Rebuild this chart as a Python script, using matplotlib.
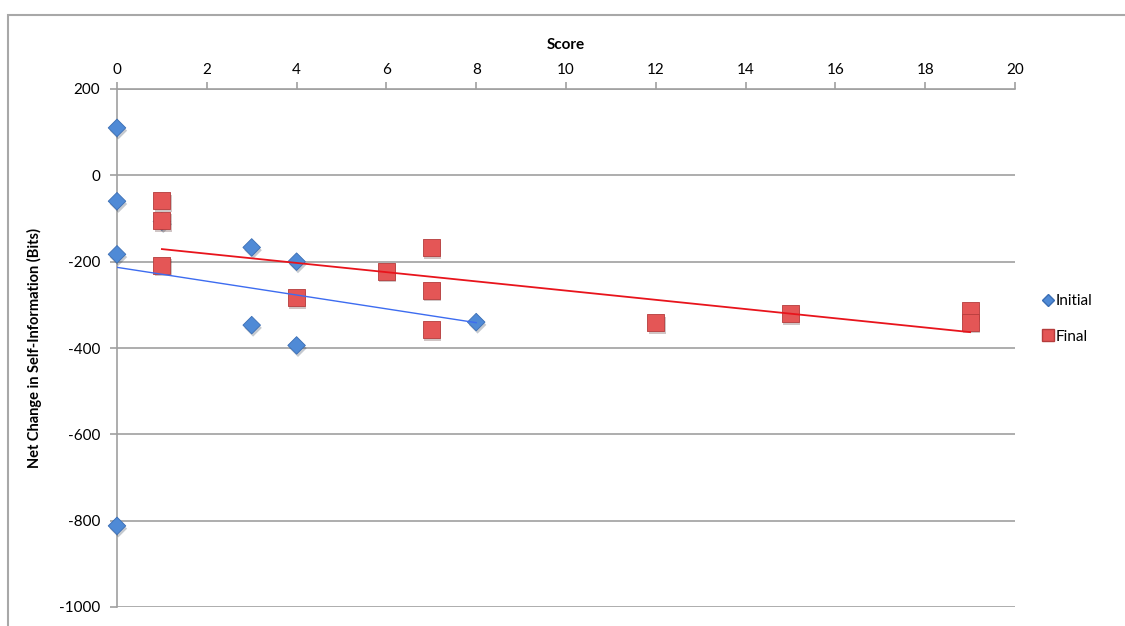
import numpy as np
import matplotlib
matplotlib.use('Agg')
import matplotlib.pyplot as plt
import matplotlib.patheffects as pe
from matplotlib.patches import Rectangle
from matplotlib.lines import Line2D

plt.rcParams['font.family'] = ['Lato', 'DejaVu Sans']
plt.rcParams['axes.unicode_minus'] = False

# -----------------------------------------------------------------------------------------+
# data
score_initial = [0, 0, 0, 0, 1, 3, 3, 4, 4, 8]
bits_initial = [110, -60, -183, -812, -107, -167, -347, -200, -394, -340]

score_final = [1, 1, 1, 4, 6, 7, 7, 7, 12, 15, 19, 19]
bits_final = [-58, -104, -208, -283, -222, -167, -266, -357, -342, -320, -313, -340]

xticks = [0, 2, 4, 6, 8, 10, 12, 14, 16, 18, 20]
yticks = [200, 0, -200, -400, -600, -800, -1000]

blue = '#4f8ad6'
blue_edge = '#3b6eb4'
red = '#e45656'
red_edge = '#b53c3c'

# -----------------------------------------------------------------------------------------+
fig = plt.figure(figsize=(11.25, 6.26), dpi=100)
ax = fig.add_axes([117/1125, 1-607/626, (1015-117)/1125, (607-89)/626])

# frame round the chart (cut off at right and bottom)
fig.add_artist(Rectangle((8/1125, -0.1), 1.2, 1-15/626+0.1, transform=fig.transFigure,
                         fill=False, edgecolor='#a8a8a8', lw=1.5))

shadow = [pe.SimplePatchShadow(offset=(1, -2), alpha=0.25), pe.Normal()]

ax.scatter(score_initial, bits_initial, marker='D', s=80, c=blue, edgecolors=blue_edge,
           linewidths=0.6, zorder=3, path_effects=shadow, clip_on=False)
ax.scatter(score_final, bits_final, marker='s', s=150, c=red, edgecolors=red_edge,
           linewidths=0.6, zorder=4, path_effects=shadow, clip_on=False)

# linear trend lines
p1 = np.polyfit(score_initial, bits_initial, 1)
xs1 = np.array([min(score_initial), max(score_initial)])
ax.plot(xs1, np.polyval(p1, xs1), color='#3d6cf0', lw=1.0, zorder=5)

p2 = np.polyfit(score_final, bits_final, 1)
xs2 = np.array([min(score_final), max(score_final)])
ax.plot(xs2, np.polyval(p2, xs2), color='#e8141c', lw=1.3, zorder=5)

ax.set_xlim(0, 20)
ax.set_ylim(-1000, 200)
ax.set_xticks(xticks)
ax.set_yticks(yticks)
ax.yaxis.grid(True, color='#a0a0a0', lw=1.2)
ax.set_axisbelow(True)

ax.xaxis.tick_top()
ax.xaxis.set_label_position('top')
for s in ['right', 'bottom']:
    ax.spines[s].set_visible(False)
for s in ['top', 'left']:
    ax.spines[s].set_color('#a0a0a0')
    ax.spines[s].set_linewidth(1.2)
ax.tick_params(axis='both', colors='#a0a0a0', labelcolor='black', labelsize=11,
               length=5, width=1.2)
ax.tick_params(axis='x', pad=4)
ax.tick_params(axis='y', pad=7)

ax.set_xlabel('Score', fontweight='bold', fontsize=11, labelpad=10)
ax.set_ylabel('Net Change in Self-Information (Bits)', fontweight='bold', fontsize=10.5,
              labelpad=12)

handles = [Line2D([], [], marker='D', ls='', color=blue, markeredgecolor=blue_edge, markersize=6),
           Line2D([], [], marker='s', ls='', color=red, markeredgecolor=red_edge, markersize=8)]
fig.legend(handles, ['Initial', 'Final'], loc='center left', bbox_to_anchor=(1030/1125, 1-319/626),
           frameon=False, fontsize=11, handlelength=0.6, handletextpad=0.2, labelspacing=1.4)

fig.savefig('out.png', dpi=100)
